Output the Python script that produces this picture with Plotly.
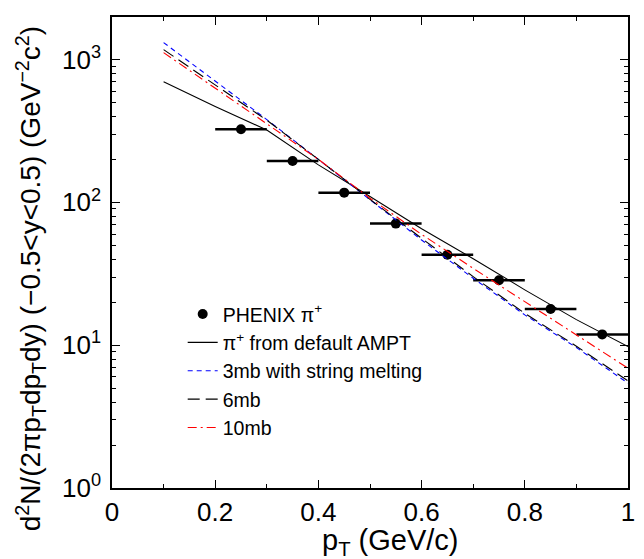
import plotly.graph_objects as go

# PHENIX pi+ data points
pt_data = [0.25, 0.35, 0.45, 0.55, 0.65, 0.75, 0.85, 0.95]
yield_data = [325, 195, 117, 71, 43, 28.5, 17.9, 11.9]
pt_halfbin = [0.05] * 8

# AMPT curves
pt_model = [0.1, 0.2, 0.3, 0.4, 0.5, 0.6, 0.7, 0.8, 0.9, 1.0]
ampt_default = [698, 470, 321, 183, 110, 65.4, 40.3, 24.4, 15.1, 9.77]
ampt_3mb = [1315, 705, 380, 200, 105, 54.5, 29.4, 16.3, 9.63, 5.42]
ampt_6mb = [1174, 661, 376, 200, 105, 56, 30.2, 16.7, 9.84, 5.62]
ampt_10mb = [1119, 630, 358, 200, 107, 59.7, 34.5, 20.2, 11.7, 6.9]

x_title = "p<sub>T</sub> (GeV/c)"
y_title = "d<sup>2</sup>N/(2πp<sub>T</sub>dp<sub>T</sub>dy) (−0.5&lt;y&lt;0.5) (GeV<sup>−2</sup>c<sup>2</sup>)"

font = "Arial, Liberation Sans, sans-serif"

fig = go.Figure()
fig.add_trace(go.Scatter(
    x=pt_data, y=yield_data, mode="markers", name="PHENIX π<sup>+</sup>",
    marker=dict(color="black", size=10),
    error_x=dict(type="data", array=pt_halfbin, width=0, thickness=2.5, color="black"),
))
fig.add_trace(go.Scatter(x=pt_model, y=ampt_default, mode="lines",
                         name="π<sup>+</sup> from default AMPT",
                         line=dict(color="black", width=1.1)))
fig.add_trace(go.Scatter(x=pt_model, y=ampt_3mb, mode="lines",
                         name="3mb with string melting",
                         line=dict(color="blue", width=1.1, dash="5px,4px")))
fig.add_trace(go.Scatter(x=pt_model, y=ampt_6mb, mode="lines", name="6mb",
                         line=dict(color="black", width=1.1, dash="12px,6px")))
fig.add_trace(go.Scatter(x=pt_model, y=ampt_10mb, mode="lines", name="10mb",
                         line=dict(color="red", width=1.1, dash="9px,4px,2px,4px")))

axis_common = dict(
    showline=True, linecolor="black", linewidth=1.5, mirror="ticks",
    ticks="inside", ticklen=8, tickwidth=1, tickcolor="black",
    showgrid=False, zeroline=False, automargin=False,
)

fig.update_xaxes(
    range=[0, 1], tickvals=[0, 0.2, 0.4, 0.6, 0.8, 1],
    ticktext=["0", "0.2", "0.4", "0.6", "0.8", "1"],
    tickfont=dict(family=font, size=26, color="black"),
    minor=dict(ticks="inside", ticklen=4, tickcolor="black", dtick=0.1),
    **axis_common,
)
fig.update_yaxes(
    type="log", range=[0, 3.298],
    tickvals=[1, 10, 100, 1000],
    ticktext=["10<sup>0</sup>", "10<sup>1</sup>", "10<sup>2</sup>", "10<sup>3</sup>"],
    tickfont=dict(family=font, size=26, color="black"),
    ticklabelstandoff=4,
    minor=dict(ticks="inside", ticklen=4, tickcolor="black",
               tickvals=[m * 10 ** d for d in range(4) for m in range(2, 10)]),
    **axis_common,
)

# axis titles as annotations: in the original they sit off-centre
fig.add_annotation(text=x_title, xref="paper", yref="paper", x=0.54, y=-0.115,
                   xanchor="center", yanchor="middle", showarrow=False,
                   font=dict(family=font, size=29, color="black"))
fig.add_annotation(text=y_title, xref="paper", yref="paper", x=-0.158, y=0.444,
                   xanchor="center", yanchor="middle", textangle=-90, showarrow=False,
                   font=dict(family=font, size=28, color="black"))

# page body adds an 8px margin, so the figure is sized to fit the window
fig.update_layout(
    width=636, height=551,
    margin=dict(l=104, r=16, t=9, b=71),
    plot_bgcolor="white", paper_bgcolor="white",
    font=dict(family=font, color="black"),
    legend=dict(x=0.137, y=0.41, xanchor="left", yanchor="top",
                bgcolor="rgba(0,0,0,0)", font=dict(family=font, size=19.5, color="black")),
)

fig.write_html("out.html")
